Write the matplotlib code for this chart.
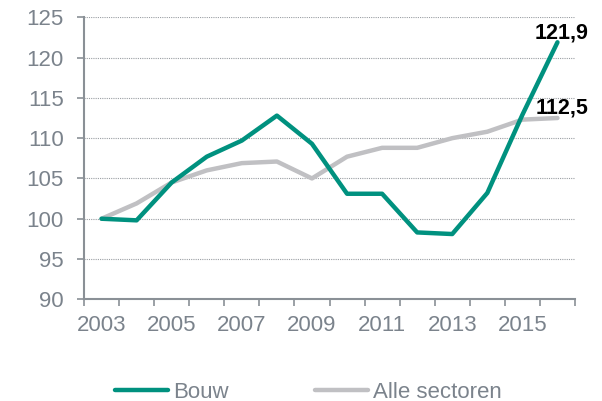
import matplotlib
matplotlib.use("Agg")
import matplotlib.pyplot as plt
from matplotlib.ticker import FixedLocator

plt.rcParams['font.family'] = ['Liberation Sans', 'DejaVu Sans']

years = list(range(2003, 2017))
bouw = [100.0, 99.8, 104.5, 107.7, 109.7, 112.8, 109.3, 103.1, 103.1, 98.3, 98.1, 103.2, 112.9, 121.9]
alle = [100.0, 101.9, 104.5, 106.0, 106.9, 107.1, 105.0, 107.7, 108.8, 108.8, 110.0, 110.8, 112.3, 112.5]
yticks = [90, 95, 100, 105, 110, 115, 120, 125]
labels_bouw = "Bouw"
labels_alle = "Alle sectoren"

green = "#00917f"
grey = "#c0c0c3"
txt = "#7b838c"
spine = "#8a9096"

fig = plt.figure(figsize=(6.02, 4.01), dpi=100)
ax = fig.add_axes([84/602, 1-299.3/401, (575-84)/602, (299.3-17.3)/401])

x = list(range(len(years)))
ax.plot(x, alle, color=grey, lw=3.2, solid_capstyle='round', label=labels_alle, zorder=3)
ax.plot(x, bouw, color=green, lw=3.2, solid_capstyle='round', label=labels_bouw, zorder=4)

ax.set_xlim(-0.5, len(years)-0.5)
ax.set_ylim(90, 125)
ax.set_yticks(yticks)
ax.yaxis.grid(True, linestyle=(0, (1, 1)), color="#9a9ea3", lw=0.8)
ax.set_axisbelow(True)

ax.set_xticks(x[::2])
ax.set_xticklabels([str(y) for y in years[::2]])
ax.xaxis.set_minor_locator(FixedLocator([i - 0.5 for i in range(len(years)+1)]))
ax.tick_params(axis='x', which='major', length=0, pad=11.5, labelsize=16, labelcolor=txt)
ax.tick_params(axis='x', which='minor', length=5, width=1.2, color=spine, direction='out')
ax.tick_params(axis='y', length=5, width=1.2, color=spine, labelsize=16, labelcolor=txt, pad=9.5)

for s in ['top', 'right']:
    ax.spines[s].set_visible(False)
for s in ['left', 'bottom']:
    ax.spines[s].set_color(spine)
    ax.spines[s].set_linewidth(1.5)

ax.annotate(f"{bouw[-1]:.1f}".replace('.', ','), (x[-1], bouw[-1]), xytext=(3, 3),
            textcoords='offset points', ha='center', va='baseline', fontsize=15.5,
            fontweight='bold', color='black', annotation_clip=False)
ax.annotate(f"{alle[-1]:.1f}".replace('.', ','), (x[-1], alle[-1]), xytext=(3, 3.5),
            textcoords='offset points', ha='center', va='baseline', fontsize=15.5,
            fontweight='bold', color='black', annotation_clip=False)

h, l = ax.get_legend_handles_labels()
leg = fig.legend(h[::-1], l[::-1], loc='center', bbox_to_anchor=(0.512, 1-392/401), ncol=2,
                 frameon=False, fontsize=16, handlelength=2.4, handletextpad=0.2,
                 columnspacing=3.9)
for t in leg.get_texts():
    t.set_color(txt)

fig.savefig("out.png", dpi=100)
